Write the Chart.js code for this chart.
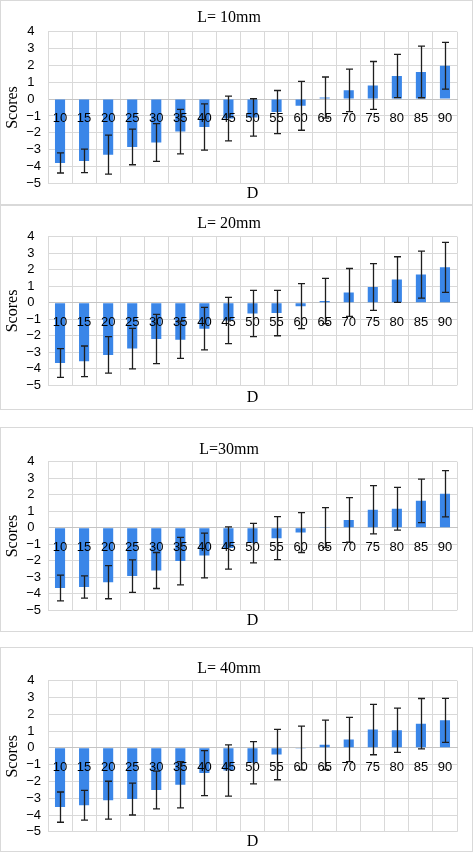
<!DOCTYPE html>
<html>
<head>
<meta charset="utf-8">
<script src="https://cdn.jsdelivr.net/npm/chart.js@4.4.1/dist/chart.umd.min.js"></script>
<style>
  html, body { margin: 0; padding: 0; background: #fff; }
  .panel { position: absolute; left: 0; width: 471px; height: 203px; border: 1px solid #d9d9d9; }
</style>
</head>
<body>
<div class="panel" style="top:0px"><canvas id="c1"></canvas></div>
<div class="panel" style="top:205px"><canvas id="c2"></canvas></div>
<div class="panel" style="top:427px"><canvas id="c3"></canvas></div>
<div class="panel" style="top:647px"><canvas id="c4"></canvas></div>
<script>
const dLabels = ["10", "15", "20", "25", "30", "35", "40", "45", "50", "55", "60", "65", "70", "75", "80", "85", "90"]

const titles = ["L= 10mm", "L= 20mm", "L=30mm", "L= 40mm"]

const means10 = [-3.79, -3.67, -3.30, -2.84, -2.58, -1.93, -1.66, -1.15, -1.09, -0.77, -0.40, 0.09, 0.52, 0.81, 1.37, 1.61, 1.98]
const sd10 = [0.60, 0.70, 1.16, 1.06, 1.12, 1.32, 1.37, 1.33, 1.11, 1.28, 1.45, 1.22, 1.26, 1.42, 1.28, 1.53, 1.39]

const means20 = [-3.65, -3.55, -3.16, -2.78, -2.20, -2.24, -1.57, -1.08, -0.65, -0.63, -0.21, 0.10, 0.62, 0.95, 1.40, 1.70, 2.14]
const sd20 = [0.87, 0.93, 1.10, 1.23, 1.49, 1.13, 1.29, 1.40, 1.40, 1.37, 1.36, 1.37, 1.45, 1.41, 1.38, 1.42, 1.51]

const means30 = [-3.65, -3.59, -3.30, -2.93, -2.59, -2.02, -1.68, -1.23, -0.93, -0.63, -0.29, 0.01, 0.47, 1.09, 1.15, 1.63, 2.06]
const sd30 = [0.78, 0.67, 1.00, 0.99, 1.09, 1.44, 1.36, 1.28, 1.20, 1.30, 1.21, 1.21, 1.35, 1.46, 1.30, 1.32, 1.40]

const means40 = [-3.53, -3.42, -3.12, -3.05, -2.51, -2.20, -1.50, -1.35, -0.89, -0.40, -0.01, 0.18, 0.50, 1.09, 1.05, 1.44, 1.64]
const sd40 = [0.90, 0.89, 1.13, 0.95, 1.12, 1.38, 1.34, 1.53, 1.26, 1.50, 1.30, 1.47, 1.32, 1.50, 1.32, 1.50, 1.31]

const yMin = -5
const yMax = 4

// per panel spacing: title padding and "D" title padding
const pads = [
  { tt: 7.4, tb: 4.1, dt: 0.4, db: 1.1 },
  { tt: 7.7, tb: 3.7, dt: 2.8, db: 1.7 },
  { tt: 11.7, tb: 2.8, dt: 1.1, db: 0.4 },
  { tt: 11.4, tb: 2.1, dt: 0, db: 0 },
]

const sans = "'Liberation Sans', Arial, sans-serif"
const serif = "'Liberation Serif', 'Times New Roman', serif"
const gridColor = "#d9d9d9"

// whiskers drawn on top of everything, like the original
const errorBars = {
  id: "errorBars",
  afterDraw(chart) {
    const ctx = chart.ctx
    const y = chart.scales.y
    chart.data.datasets.forEach((ds, i) => {
      const meta = chart.getDatasetMeta(i)
      ctx.save()
      ctx.strokeStyle = "#1e1e1e"
      ctx.lineWidth = 1.3
      meta.data.forEach((bar, j) => {
        const m = ds.data[j]
        const e = ds.errors[j]
        const x = Math.round(bar.x) + 0.5
        const top = y.getPixelForValue(m + e)
        const bot = y.getPixelForValue(m - e)
        ctx.beginPath()
        ctx.moveTo(x, top)
        ctx.lineTo(x, bot)
        ctx.moveTo(x - 3.5, top)
        ctx.lineTo(x + 3.5, top)
        ctx.moveTo(x - 3.5, bot)
        ctx.lineTo(x + 3.5, bot)
        ctx.stroke()
      })
      ctx.restore()
    })
  },
}

// excel-ish number format: wide minus, positives padded on the right
const fmtY = (v) => (v < 0 ? "\u2212" + Math.abs(v) : v + "\u2002")

function makeChart(id, title, means, sds, pad) {
  return new Chart(document.getElementById(id), {
    type: "bar",
    data: {
      labels: dLabels,
      datasets: [{
        data: means,
        errors: sds,
        backgroundColor: "#3a86e8",
        borderWidth: 0,
        barPercentage: 0.42,
        categoryPercentage: 1,
      }],
    },
    plugins: [errorBars],
    options: {
      responsive: true,
      maintainAspectRatio: false,
      animation: false,
      layout: { padding: { left: 0, right: 15, top: 0, bottom: 0 } },
      scales: {
        x: {
          position: { y: 0 },
          offset: true,
          grid: { color: gridColor, offset: true, drawTicks: false },
          border: { color: "#c4c4c4" },
          ticks: {
            font: { family: sans, size: 13 },
            color: "#000",
            padding: 12,
            maxRotation: 0,
            autoSkip: false,
            z: 1,
          },
        },
        xD: {
          type: "category",
          position: "bottom",
          labels: dLabels,
          grid: { display: false, drawTicks: false },
          border: { display: false },
          ticks: { display: false },
          title: {
            display: true,
            text: "D",
            color: "#000",
            font: { family: serif, size: 16 },
            padding: { top: pad.dt, bottom: pad.db },
          },
        },
        y: {
          min: yMin,
          max: yMax,
          afterFit: (scale) => { scale.width = 47 },
          grid: { color: gridColor, drawTicks: false },
          border: { color: gridColor },
          ticks: {
            stepSize: 1,
            autoSkip: false,
            font: { family: sans, size: 13 },
            color: "#000",
            padding: 7,
            callback: fmtY,
          },
          title: {
            display: true,
            text: "Scores",
            color: "#000",
            font: { family: serif, size: 16 },
            padding: { top: 2.5, bottom: 0 },
          },
        },
      },
      plugins: {
        legend: { display: false },
        tooltip: { enabled: false },
        title: {
          display: true,
          text: title,
          color: "#000",
          font: { family: serif, size: 16, weight: "normal" },
          padding: { top: pad.tt, bottom: pad.tb },
        },
      },
    },
  })
}

makeChart("c1", titles[0], means10, sd10, pads[0])
makeChart("c2", titles[1], means20, sd20, pads[1])
makeChart("c3", titles[2], means30, sd30, pads[2])
makeChart("c4", titles[3], means40, sd40, pads[3])
</script>
</body>
</html>
